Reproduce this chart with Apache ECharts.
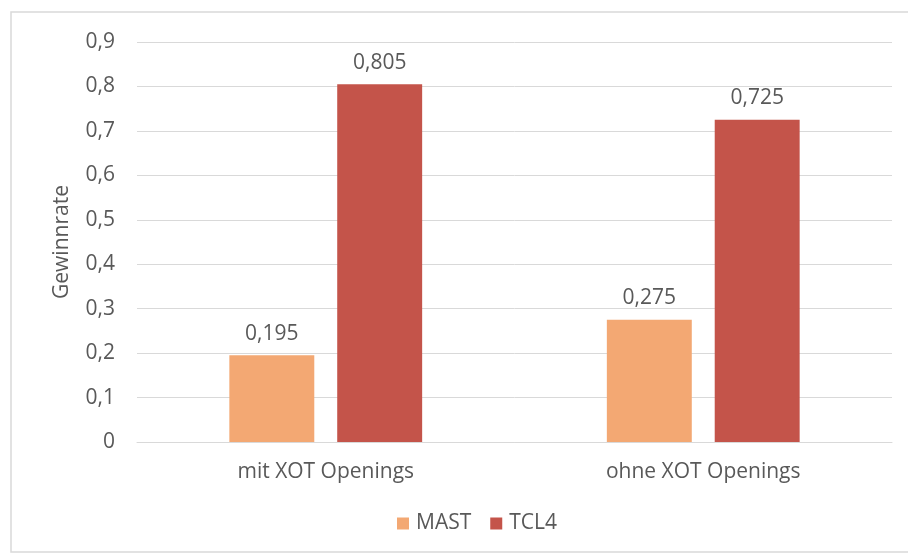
<!DOCTYPE html>
<html>
<head>
<meta charset="utf-8">
<script src="https://cdn.jsdelivr.net/npm/echarts@6/dist/echarts.min.js"></script>
<style>
  html, body { margin: 0; padding: 0; background: #fff; }
  #chart { width: 908px; height: 556px; }
</style>
</head>
<body>
<div id="chart"></div>
<script>
// Gewinnrate pro Variante
const categories = ['mit XOT Openings', 'ohne XOT Openings'];
const mastValues = [0.195, 0.275];
const tcl4Values = [0.805, 0.725];
const yTicks = [0, 0.9, 0.1]; // min, max, interval

const fmt = v => String(v).replace('.', ',');

const chart = echarts.init(document.getElementById('chart'), null, { renderer: 'canvas' });

const textColor = '#595959';
const font = '"Open Sans", "Noto Sans", sans-serif';
const fs = 21;

chart.setOption({
  backgroundColor: '#fff',
  animation: false,
  textStyle: { fontFamily: font },
  graphic: [{
    type: 'rect',
    shape: { x: 11, y: 12, width: 920, height: 540 },
    style: { fill: 'none', stroke: '#d9d9d9', lineWidth: 1.5 },
    silent: true
  }],
  grid: { left: 137, right: 16, top: 42, bottom: 114 },
  legend: {
    bottom: 17,
    left: 392,
    itemWidth: 12,
    itemHeight: 12,
    itemGap: 19,
    icon: 'rect',
    textStyle: { color: textColor, fontSize: fs, fontFamily: font, padding: [0, 0, 0, 2] }
  },
  xAxis: {
    type: 'category',
    data: categories,
    axisTick: { show: false },
    axisLine: { lineStyle: { color: '#d9d9d9', width: 1 } },
    axisLabel: { color: textColor, fontSize: fs, margin: 20, fontFamily: font }
  },
  yAxis: {
    type: 'value',
    min: yTicks[0],
    max: yTicks[1],
    interval: yTicks[2],
    name: 'Gewinnrate',
    nameLocation: 'middle',
    nameGap: 64,
    nameTextStyle: { color: textColor, fontSize: 21, fontFamily: font },
    axisLine: { show: false },
    axisTick: { show: false },
    splitLine: { lineStyle: { color: '#d9d9d9', width: 1 } },
    axisLabel: {
      color: textColor, fontSize: fs, margin: 22, fontFamily: font,
      formatter: v => fmt(Math.round(v * 10) / 10)
    }
  },
  series: [
    {
      name: 'MAST',
      type: 'bar',
      data: mastValues,
      barWidth: '22.5%',
      barGap: '27%',
      itemStyle: { color: '#f3a873' },
      label: {
        show: true, position: 'top', distance: 11,
        color: textColor, fontSize: fs, fontFamily: font,
        formatter: p => fmt(p.value)
      }
    },
    {
      name: 'TCL4',
      type: 'bar',
      data: tcl4Values,
      barWidth: '22.5%',
      itemStyle: { color: '#c4544a' },
      label: {
        show: true, position: 'top', distance: 11,
        color: textColor, fontSize: fs, fontFamily: font,
        formatter: p => fmt(p.value)
      }
    }
  ]
});
</script>
</body>
</html>
